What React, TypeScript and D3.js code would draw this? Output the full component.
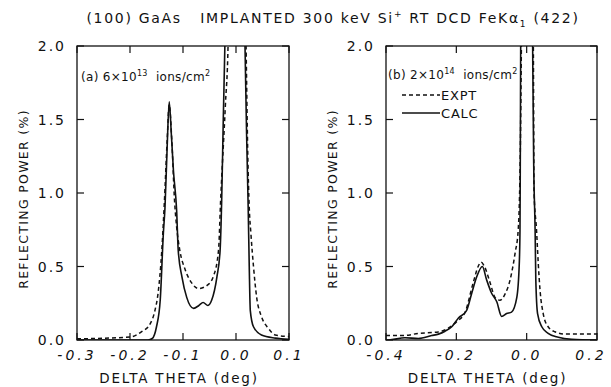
import React from "react";
import * as d3 from "d3";

// ---- data ----
const xTicksA = [-0.3, -0.2, -0.1, 0.0, 0.1];
const xTicksB = [-0.4, -0.2, 0.0, 0.2];
const yTicks = [0.0, 0.5, 1.0, 1.5, 2.0];

const calcA: [number, number][] = [
  [-0.3, 0], [-0.2, 0], [-0.166, 0], [-0.158, 0.01], [-0.15, 0.09], [-0.143, 0.27],
  [-0.137, 0.73], [-0.134, 0.9], [-0.13, 1.3], [-0.126, 1.62], [-0.122, 1.4],
  [-0.118, 1.15], [-0.112, 0.88], [-0.109, 0.61], [-0.102, 0.43], [-0.093, 0.29],
  [-0.08, 0.215], [-0.07, 0.235], [-0.062, 0.255], [-0.053, 0.235], [-0.046, 0.27],
  [-0.036, 0.43], [-0.03, 0.61], [-0.027, 0.95], [-0.024, 1.5], [-0.021, 2.0],
  [-0.018, 2.6], [0.014, 2.6], [0.017, 2.0], [0.02, 1.4], [0.023, 0.9], [0.025, 0.5],
  [0.027, 0.2], [0.033, 0.09], [0.048, 0.034], [0.074, 0.013], [0.1, 0.005],
];
const exptA: [number, number][] = [
  [-0.3, 0.008], [-0.2, 0.02], [-0.178, 0.057], [-0.162, 0.11], [-0.153, 0.2],
  [-0.147, 0.32], [-0.14, 0.61], [-0.135, 0.95], [-0.13, 1.35], [-0.126, 1.6],
  [-0.121, 1.35], [-0.116, 0.95], [-0.112, 0.77], [-0.106, 0.61], [-0.096, 0.48],
  [-0.084, 0.39], [-0.071, 0.35], [-0.06, 0.36], [-0.055, 0.37], [-0.043, 0.43],
  [-0.033, 0.61], [-0.029, 0.95], [-0.02, 1.6], [-0.015, 2.0], [-0.012, 2.6],
  [0.016, 2.6], [0.019, 2.0], [0.022, 1.3], [0.025, 0.9], [0.028, 0.73], [0.033, 0.5],
  [0.039, 0.29], [0.048, 0.16], [0.061, 0.08], [0.074, 0.034], [0.1, 0.023],
];
const calcB: [number, number][] = [
  [-0.4, 0], [-0.393, 0.0], [-0.346, 0.015], [-0.308, 0.01], [-0.27, 0.03],
  [-0.251, 0.04], [-0.232, 0.06], [-0.213, 0.09], [-0.194, 0.15], [-0.171, 0.2],
  [-0.156, 0.32], [-0.142, 0.43], [-0.126, 0.5], [-0.114, 0.41], [-0.1, 0.32],
  [-0.085, 0.26], [-0.071, 0.16], [-0.057, 0.18], [-0.043, 0.19], [-0.028, 0.29],
  [-0.021, 0.52], [-0.019, 0.75], [-0.018, 1.3], [-0.017, 2.0], [-0.015, 2.6],
  [0.015, 2.6], [0.017, 2.0], [0.02, 1.2], [0.024, 0.75], [0.026, 0.41], [0.031, 0.18],
  [0.043, 0.09], [0.061, 0.045], [0.09, 0.018], [0.128, 0.005], [0.2, 0],
];
const exptB: [number, number][] = [
  [-0.4, 0.03], [-0.35, 0.03], [-0.308, 0.045], [-0.251, 0.055], [-0.223, 0.08],
  [-0.199, 0.125], [-0.175, 0.19], [-0.152, 0.39], [-0.138, 0.5], [-0.13, 0.53],
  [-0.12, 0.5], [-0.104, 0.39], [-0.09, 0.29], [-0.076, 0.27], [-0.062, 0.31],
  [-0.047, 0.41], [-0.033, 0.59], [-0.024, 0.75], [-0.018, 1.3], [-0.015, 2.0],
  [-0.013, 2.6], [0.017, 2.6], [0.019, 2.0], [0.021, 1.0], [0.028, 0.75], [0.033, 0.52],
  [0.038, 0.34], [0.047, 0.18], [0.061, 0.09], [0.08, 0.056], [0.109, 0.04],
  [0.166, 0.04], [0.2, 0.04],
];

const FONT = "'DejaVu Sans', sans-serif";

function fmt(v: number) {
  return v.toFixed(1);
}

type PanelProps = {
  id: string;
  x0: number;
  x1: number;
  y0: number;
  y1: number;
  xDomain: [number, number];
  xTicks: number[];
  calc: [number, number][];
  expt: [number, number][];
  label: React.ReactNode;
  legend?: boolean;
};

function Panel(p: PanelProps) {
  const x = d3.scaleLinear().domain(p.xDomain).range([p.x0, p.x1]);
  const y = d3.scaleLinear().domain([0, 2]).range([p.y1, p.y0]);
  const line = d3
    .line<[number, number]>()
    .x((d) => x(d[0]))
    .y((d) => y(d[1]))
    .curve(d3.curveMonotoneX);
  const tl = 7;
  const cx = (p.x0 + p.x1) / 2;
  const cy = (p.y0 + p.y1) / 2;
  return (
    <g>
      <defs>
        <clipPath id={p.id}>
          <rect x={p.x0} y={p.y0} width={p.x1 - p.x0} height={p.y1 - p.y0} />
        </clipPath>
      </defs>
      <g clipPath={`url(#${p.id})`} fill="none" stroke="#111">
        <path d={line(p.expt) || ""} strokeWidth={1.5} strokeDasharray="4,3" />
        <path d={line(p.calc) || ""} strokeWidth={1.6} />
      </g>
      <rect x={p.x0} y={p.y0} width={p.x1 - p.x0} height={p.y1 - p.y0} fill="none" stroke="#111" strokeWidth={1.3} />
      {yTicks.map((t) => (
        <g key={"y" + t}>
          <line x1={p.x0} x2={p.x0 + tl} y1={y(t)} y2={y(t)} stroke="#111" strokeWidth={1.2} />
          <line x1={p.x1} x2={p.x1 - tl} y1={y(t)} y2={y(t)} stroke="#111" strokeWidth={1.2} />
          <text x={p.x0 - 11} y={y(t)} dy="0.36em" textAnchor="end" fontSize={14} letterSpacing={2} fontFamily={FONT} fill="#111">
            {t.toFixed(1)}
          </text>
        </g>
      ))}
      {p.xTicks.map((t) => (
        <g key={"x" + t}>
          <line x1={x(t)} x2={x(t)} y1={p.y1} y2={p.y1 - tl} stroke="#111" strokeWidth={1.2} />
          <line x1={x(t)} x2={x(t)} y1={p.y0} y2={p.y0 + tl} stroke="#111" strokeWidth={1.2} />
          <text x={Math.min(x(t), 591)} y={p.y1 + 20} textAnchor="middle" fontSize={14} letterSpacing={3} fontStyle="italic" fontFamily={FONT} fill="#111">
            {fmt(t)}
          </text>
        </g>
      ))}
      <text x={cx - 4} y={p.y1 + 43} textAnchor="middle" fontSize={13.5} letterSpacing={1.8} fontFamily={FONT} fill="#111">
        DELTA THETA (deg)
      </text>
      <text
        transform={`translate(${p.x0 - 54},${cy + 6}) rotate(-90)`}
        textAnchor="middle"
        dy="0.36em"
        fontSize={12.5}
        letterSpacing={1.3}
        fontFamily={FONT}
        fill="#111"
      >
        REFLECTING POWER (%)
      </text>
      {p.label}
      {p.legend && (
        <g>
          <line x1={p.x0 + 16} x2={p.x0 + 54} y1={95} y2={95} stroke="#111" strokeWidth={1.5} strokeDasharray="4,3" />
          <text x={p.x0 + 55} y={95} dy="0.36em" fontSize={13} letterSpacing={0.8} fontFamily={FONT} fill="#111">EXPT</text>
          <line x1={p.x0 + 16} x2={p.x0 + 54} y1={113} y2={113} stroke="#111" strokeWidth={1.6} />
          <text x={p.x0 + 55} y={113} dy="0.36em" fontSize={13} letterSpacing={0.8} fontFamily={FONT} fill="#111">CALC</text>
        </g>
      )}
    </g>
  );
}

export default function App() {
  return (
    <svg
      width={611}
      height={387}
      viewBox="0 0 611 387"
      style={{ position: "absolute", left: 0, top: 0, background: "#fff" }}
    >
      <rect width={611} height={387} fill="#fff" />
      <text x={333} y={18} dy="0.36em" textAnchor="middle" fontSize={14} letterSpacing={1.7} fontFamily={FONT} fill="#111">
        (100) GaAs{"\u00a0\u00a0\u00a0"}IMPLANTED 300 keV Si
        <tspan fontSize={9} dy={-6}>+</tspan>
        <tspan dy={6}> RT DCD FeK</tspan>
        <tspan>α</tspan>
        <tspan fontSize={9} dy={4}>1</tspan>
        <tspan dy={-4}> (422)</tspan>
      </text>
      <Panel
        id="clipA"
        x0={77}
        x1={289}
        y0={46}
        y1={340}
        xDomain={[-0.3, 0.1]}
        xTicks={xTicksA}
        calc={calcA}
        expt={exptA}
        label={
          <text x={81} y={77} dy="0.36em" fontSize={12} letterSpacing={0.3} fontFamily={FONT} fill="#111">
            (a) 6×10<tspan fontSize={8} dy={-5}>13</tspan>
            <tspan dy={5}>{"\u00a0\u00a0"}ions/cm</tspan>
            <tspan fontSize={8} dy={-5}>2</tspan>
          </text>
        }
      />
      <Panel
        id="clipB"
        x0={386}
        x1={597}
        y0={46}
        y1={340}
        xDomain={[-0.4, 0.2]}
        xTicks={xTicksB}
        calc={calcB}
        expt={exptB}
        legend
        label={
          <text x={388} y={75} dy="0.36em" fontSize={12} letterSpacing={0.3} fontFamily={FONT} fill="#111">
            (b) 2×10<tspan fontSize={8} dy={-5}>14</tspan>
            <tspan dy={5}>{"\u00a0\u00a0"}ions/cm</tspan>
            <tspan fontSize={8} dy={-5}>2</tspan>
          </text>
        }
      />
    </svg>
  );
}
